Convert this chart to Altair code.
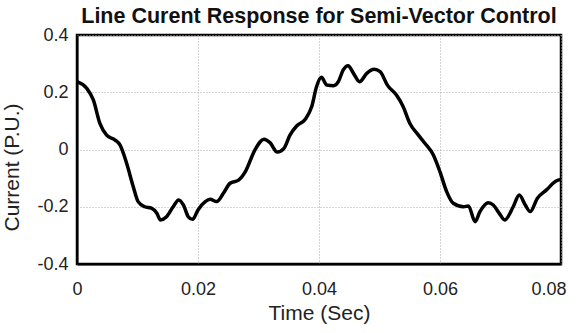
import altair as alt
import pandas as pd

time_s = [0.0, 0.0016, 0.0027, 0.0038, 0.0049, 0.0063, 0.0071, 0.0082, 0.0093, 0.0101,
          0.0112, 0.0123, 0.0132, 0.0138, 0.0148, 0.0159, 0.0168, 0.0176, 0.0184, 0.0191,
          0.0200, 0.0212, 0.0220, 0.0231, 0.0242, 0.0253, 0.0267, 0.0278, 0.0294, 0.0309,
          0.0319, 0.0331, 0.0342, 0.0352, 0.0363, 0.0377, 0.0388, 0.0396, 0.0404, 0.0413,
          0.0424, 0.0432, 0.0440, 0.0448, 0.0457, 0.0467, 0.0479, 0.0491, 0.0501, 0.0513,
          0.0528, 0.0539, 0.0550, 0.0564, 0.0575, 0.0589, 0.0600, 0.0611, 0.0622, 0.0639,
          0.0647, 0.0658, 0.0666, 0.0680, 0.0688, 0.0698, 0.0707, 0.0721, 0.0731, 0.0741,
          0.0749, 0.0761, 0.0776, 0.0792, 0.0800]
current_pu = [0.237, 0.214, 0.173, 0.090, 0.050, 0.033, 0.016, -0.048, -0.130, -0.182,
              -0.200, -0.205, -0.223, -0.246, -0.235, -0.200, -0.176, -0.194, -0.235, -0.244,
              -0.211, -0.182, -0.174, -0.182, -0.153, -0.118, -0.107, -0.078, -0.002, 0.036,
              0.024, -0.009, 0.004, 0.050, 0.082, 0.105, 0.150, 0.220, 0.252, 0.225,
              0.223, 0.237, 0.278, 0.293, 0.266, 0.237, 0.266, 0.280, 0.272, 0.225,
              0.190, 0.150, 0.092, 0.051, 0.022, -0.019, -0.078, -0.147, -0.188, -0.200,
              -0.197, -0.252, -0.217, -0.186, -0.194, -0.223, -0.246, -0.200, -0.159, -0.194,
              -0.217, -0.170, -0.141, -0.110, -0.105]

x_ticks = [0, 0.02, 0.04, 0.06, 0.08]
y_ticks = [-0.4, -0.2, 0, 0.2, 0.4]

df = pd.DataFrame({"t": time_s, "i": current_pu})

FONT = "Liberation Sans"

chart = alt.Chart(df).mark_line(
    color="black", strokeWidth=3.5, interpolate="monotone", clip=True
).encode(
    x=alt.X("t:Q", scale=alt.Scale(domain=[0, 0.08], nice=False, zero=False),
            axis=alt.Axis(values=x_ticks, title="Time (Sec)", ticks=False,
                          labelExpr="toString(round(datum.value*100)/100)",
                          labelFlush=True, labelFlushOffset=5,
                          labelPadding=16, titleY=55, titleBaseline="alphabetic")),
    y=alt.Y("i:Q", scale=alt.Scale(domain=[-0.4, 0.4], nice=False, zero=False),
            axis=alt.Axis(values=y_ticks, title="Current (P.U.)", ticks=False,
                          labelExpr="toString(round(datum.value*10)/10)",
                          labelPadding=9, titleX=-59, titleY=132,
                          titleBaseline="alphabetic", titleAngle=-90)),
).properties(
    width=484, height=229,
    title=alt.Title("Line Curent Response for Semi-Vector Control", fontSize=21.5,
                    font=FONT, fontWeight="bold", color="#111", offset=11, dy=12),
    autosize=alt.AutoSizeParams(type="none"),
    padding={"left": 77, "top": 35, "right": 16, "bottom": 69},
).configure(
    background="white"
).configure_axis(
    labelFont=FONT, titleFont=FONT, labelFontSize=18, titleFontSize=21,
    labelColor="#222", titleColor="#222", titleFontWeight="normal",
    gridColor="#a8a8a8", gridDash=[1, 2], gridWidth=1,
    domainColor="black", domainWidth=2,
).configure_view(
    stroke="black", strokeWidth=2.5
)

chart.save("out.html", embed_options={"renderer": "svg", "actions": False})
